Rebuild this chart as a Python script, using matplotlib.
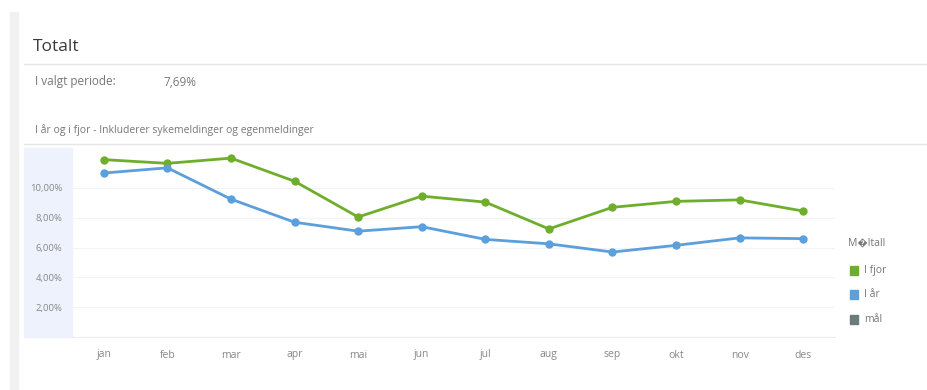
import matplotlib
matplotlib.use("Agg")
import matplotlib.pyplot as plt
from matplotlib.patches import Rectangle

plt.rcParams["font.family"] = ["Open Sans", "DejaVu Sans"]

months = ["jan", "feb", "mar", "apr", "mai", "jun", "jul", "aug", "sep", "okt", "nov", "des"]
i_fjor = [11.9, 11.65, 12.0, 10.45, 8.05, 9.45, 9.05, 7.25, 8.7, 9.1, 9.2, 8.45]
i_aar = [11.0, 11.35, 9.25, 7.7, 7.1, 7.4, 6.55, 6.25, 5.7, 6.15, 6.65, 6.6]
y_ticks = [2, 4, 6, 8, 10]
periode_verdi = "7,69%"

GREEN = "#6fae2c"
BLUE = "#5b9fdc"
GOAL = "#6b7a7a"
TXT = "#777777"

W, H = 928, 390
fig = plt.figure(figsize=(W / 100, H / 100), dpi=100)


def fx(px):
    return px / W


def fy(py):
    return 1 - py / H


# panel chrome
fig.patches.append(Rectangle((fx(10), fy(390)), fx(8), fy(12) - fy(390),
                             transform=fig.transFigure, color="#f1f1f1", zorder=-2))
for yy in (64, 144):
    fig.add_artist(plt.Line2D([fx(24), 1], [fy(yy), fy(yy)], transform=fig.transFigure,
                              color="#e6e6e6", lw=1, zorder=-2))
fig.patches.append(Rectangle((fx(24), fy(337)), fx(48), fy(148) - fy(337),
                             transform=fig.transFigure, color="#edf2fc", zorder=-2))

fig.text(fx(33), fy(47), "Totalt", fontsize=12.5, color="#3a3a3a", va="center")
fig.text(fx(35), fy(82), "I valgt periode:", fontsize=8.5, color=TXT, va="center")
fig.text(fx(163), fy(82), periode_verdi, fontsize=8.5, color=TXT, va="center")
fig.text(fx(35), fy(130), "I år og i fjor - Inkluderer sykemeldinger og egenmeldinger",
         fontsize=7.5, color=TXT, va="center")

ax = fig.add_axes([fx(72), fy(337), fx(835 - 72), fy(148) - fy(337)])
ax.set_zorder(1)
ax.set_facecolor("none")
x = list(range(len(months)))
ax.plot(x, i_fjor, color=GREEN, lw=2, marker="o", ms=5, zorder=3)
ax.plot(x, i_aar, color=BLUE, lw=2, marker="o", ms=5, zorder=3)

ax.set_xlim(-0.5, len(months) - 0.5)
ax.set_ylim(0, 12.68)
ax.set_yticks(y_ticks)
ax.set_yticklabels([f"{v:.2f}".replace(".", ",") + "%" for v in y_ticks])
ax.set_xticks(x)
ax.set_xticklabels(months)
ax.tick_params(axis="y", length=0, pad=7, labelsize=6.8, labelcolor="#888888")
ax.tick_params(axis="x", length=0, pad=9, labelsize=7.5, labelcolor="#888888")
for s in ("top", "right", "left"):
    ax.spines[s].set_visible(False)
ax.spines["bottom"].set_color("#ececec")
ax.grid(axis="y", color="#f3f3f3", lw=0.8)
ax.set_axisbelow(True)

# legend
fig.text(fx(848), fy(243), "M\ufffdltall", fontsize=7.5, color=TXT, va="center")
for i, (lbl, col) in enumerate([("I fjor", GREEN), ("I år", BLUE), ("mål", GOAL)]):
    yc = 270 + i * 24.5
    fig.patches.append(Rectangle((fx(850), fy(yc + 4.5)), fx(8), fy(yc - 4.5) - fy(yc + 4.5),
                                 transform=fig.transFigure, color=col))
    fig.text(fx(864), fy(yc), lbl, fontsize=7.5, color=TXT, va="center")

fig.savefig("out.png", dpi=100)
